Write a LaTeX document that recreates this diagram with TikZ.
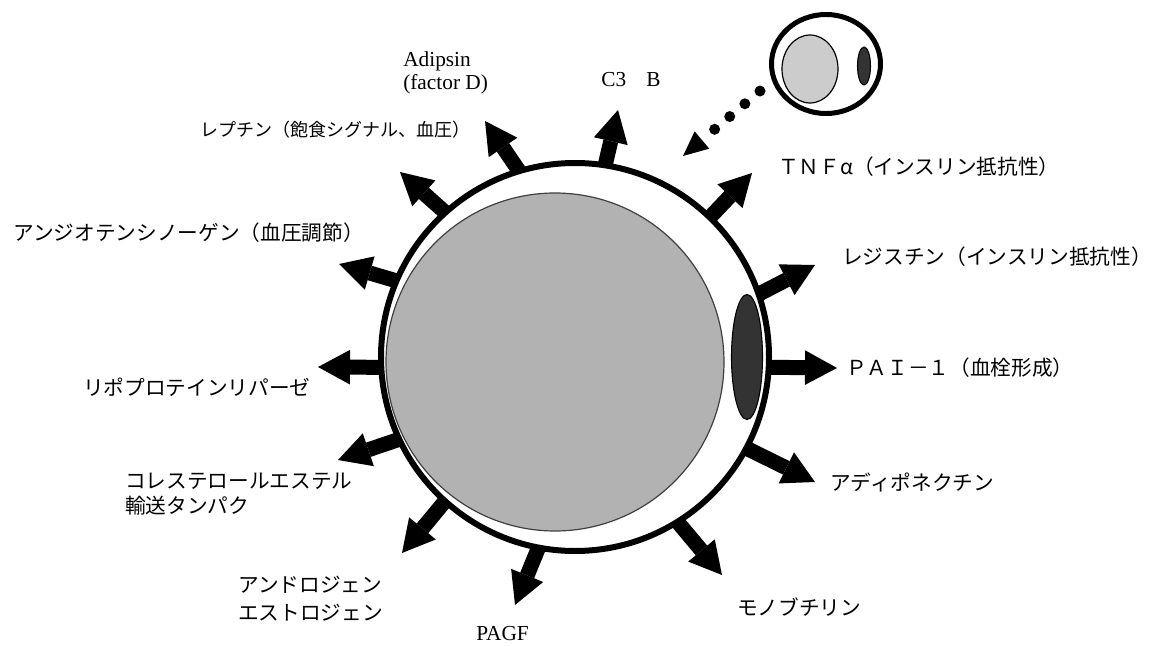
\documentclass[tikz,border=0pt]{standalone}
\usepackage{fontspec}
\setmainfont{Liberation Serif}
\newfontfamily\jp{Noto Sans CJK JP}
\usetikzlibrary{arrows.meta,shapes.geometric}

\begin{document}
\begin{tikzpicture}[x=0.75pt,y=-0.75pt,
  jplabel/.style={inner sep=0pt, anchor=west, align=left,
    font=\jp\fontsize{15.5}{18.75}\selectfont},
  enlabel/.style={inner sep=0pt, anchor=west, align=left,
    font=\fontsize{16}{17.25}\selectfont},
  secretion/.style={line width=11.25pt, shorten <=-3pt,
    -{Triangle[length=24pt,width=26pt,line width=0pt]}},
  membrane/.style={circle, draw=black, fill=white, inner sep=0pt},
  droplet/.style={circle, draw=black!75, line width=0.9pt, fill=black!30, inner sep=0pt},
  organelle/.style={ellipse, draw=black, line width=0.8pt, fill=black!80, inner sep=0pt},
]
\useasboundingbox (0,0) rectangle (1161,646);
\fill[white] (0,0) rectangle (1161,646);

% large adipocyte
\node[membrane, line width=4.5pt, minimum size=291pt] (cell) at (575,357) {};
\node[droplet, minimum size=253.5pt] (lipid) at (555,362) {};
\node[organelle, minimum width=23.25pt, minimum height=93.75pt] (organ) at (747,357) {};

% small adipocyte
\node[ellipse, draw=black, fill=white, line width=3.75pt, inner sep=0pt,
      minimum width=81.75pt, minimum height=74.25pt] (small) at (826,64) {};
\node[ellipse, draw=black, line width=0.9pt, fill=black!20, inner sep=0pt,
      minimum width=42pt, minimum height=51pt] (smalllipid) at (810,69) {};
\node[organelle, minimum width=9.75pt, minimum height=28.5pt] (smallorgan) at (864,66) {};

% growth: dotted arrow towards the large cell
\coordinate (grow0) at (760,91);
\coordinate (grow1) at (683,156);
\draw[line width=8.25pt, line cap=round, dash pattern=on 0pt off 14.85pt,
      -{Triangle[length=18.6pt,width=17pt,line width=0pt]}] (grow0) -- (grow1);

% secreted factors
\coordinate (tAdipsin) at (485,121);
\coordinate (tC3) at (618,110);
\coordinate (tLeptin) at (400,172);
\coordinate (tTNF) at (752,173);
\coordinate (tResistin) at (815,265);
\coordinate (tPAI) at (837,368);
\coordinate (tAdipo) at (815,482);
\coordinate (tMono) at (722,575);
\coordinate (tPAGF) at (515,605);
\coordinate (tSteroid) at (402,553);
\coordinate (tCETP) at (338,460);
\coordinate (tLPL) at (318,367);
\coordinate (tAngio) at (339,264);

\draw[secretion] (cell.107) -- (tAdipsin);
\draw[secretion] (cell.81) -- (tC3);
\draw[secretion] (cell.132) -- (tLeptin);
\draw[secretion] (cell.46) -- (tTNF);
\draw[secretion] (cell.19) -- (tResistin);
\draw[secretion] (cell.-3) -- (tPAI);
\draw[secretion] (cell.-28) -- (tAdipo);
\draw[secretion] (cell.-58) -- (tMono);
\draw[secretion] (cell.-101) -- (tPAGF);
\draw[secretion] (cell.-132) -- (tSteroid);
\draw[secretion] (cell.-155) -- (tCETP);
\draw[secretion] (cell.-177) -- (tLPL);
\draw[secretion] (cell.157) -- (tAngio);

% labels
\node[enlabel] (lAdipsin) at (403,73) {Adipsin\\(factor D)};
\node[enlabel] (lC3) at (601,80) {C3\hspace{0.95em}B};
\node[jplabel, font=\jp\fontsize{13.5}{16}\selectfont] (lLeptin) at (200,130) {レプチン（飽食シグナル、血圧）};
\node[jplabel] (lAngio) at (13,233) {アンジオテンシノーゲン（血圧調節）};
\node[jplabel] (lTNF) at (778,167) {ＴＮＦα（インスリン抵抗性）};
\node[jplabel] (lResistin) at (842,257) {レジスチン（インスリン抵抗性）};
\node[jplabel] (lPAI) at (846,368) {ＰＡＩ－１（血栓形成）};
\node[jplabel] (lLPL) at (83,387) {リポプロテインリパーゼ};
\node[jplabel] (lCETP) at (125,494) {コレステロールエステル\\輸送タンパク};
\node[jplabel, font=\jp\fontsize{15.5}{21}\selectfont] (lSteroid) at (238,599) {アンドロジェン\\エストロジェン};
\node[jplabel] (lAdipo) at (830,482) {アディポネクチン};
\node[jplabel] (lMono) at (737,607) {モノブチリン};
\node[enlabel] (lPAGF) at (476,634) {PAGF};
\end{tikzpicture}
\end{document}
